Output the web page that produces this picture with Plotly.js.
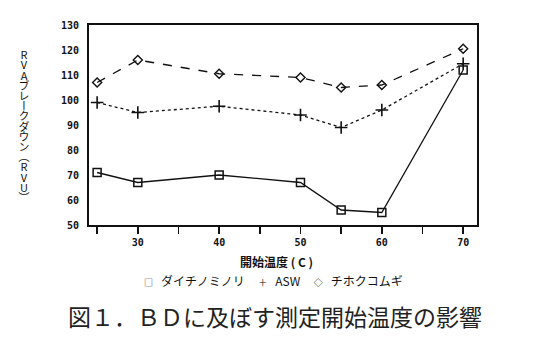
<!DOCTYPE html>
<html><head><meta charset="utf-8">
<script src="https://cdn.plot.ly/plotly-3.0.1.min.js"></script>
<style>html,body{margin:0;padding:0;background:#fff}#g{width:537px;height:337px}</style>
</head><body><div id="g"></div>
<script>
const temps = [25, 30, 40, 50, 55, 60, 70];
const daichi = [71, 67, 70, 67, 56, 55, 112];
const asw = [99, 95, 97.5, 94, 89, 96, 114.5];
const chihoku = [107, 116, 110.5, 109, 105, 106, 120.5];
const seriesNames = ["ダイチノミノリ", "ASW", "チホクコムギ"];
const legendSymbols = ["□", "＋", "◇"];
const xTickVals = [25, 30, 35, 40, 45, 50, 55, 60, 65, 70];
const xTickText = ["", "30", "", "40", "", "50", "", "60", "", "70"];
const yTickVals = [50, 60, 70, 80, 90, 100, 110, 120, 130];
const yTitle = "RVAブレークダウン︵RVU︶";
const xTitle = "開始温度 ( C )";
const caption = "図１．ＢＤに及ぼす測定開始温度の影響";

const W = 537, H = 337, L = 89, R = 60, T = 25, B = 112;
const pw = W - L - R, ph = H - T - B;
const px = x => (x - L) / pw;
const py = y => (H - B - y) / ph;

const traces = [
  {x: temps, y: daichi, name: seriesNames[0], mode: "lines+markers",
   line: {color: "#111", width: 1.3, dash: "solid"},
   marker: {symbol: "square-open", size: 8, color: "#111", line: {width: 1.5}}},
  {x: temps, y: asw, name: seriesNames[1], mode: "lines+markers",
   line: {color: "#111", width: 1.3, dash: "dot"},
   marker: {symbol: "cross-thin", size: 9, color: "#111", line: {width: 1.6, color: "#111"}}},
  {x: temps, y: chihoku, name: seriesNames[2], mode: "lines+markers",
   line: {color: "#111", width: 1.3, dash: "dash"},
   marker: {symbol: "diamond-open", size: 7, color: "#111", line: {width: 1.4}}}
];

const nb = n => "\u00a0".repeat(n);
const sym = s => '<span style="font-size:9px">' + s + '</span>';
const legendText = sym(legendSymbols[0]) + nb(3) + seriesNames[0] + nb(5) +
  sym(legendSymbols[1]) + nb(3) + seriesNames[1] + nb(5) +
  sym(legendSymbols[2]) + nb(3) + seriesNames[2];

const ann = [];
ann.push({xref: "paper", yref: "paper", x: px(24), y: py(126), text: yTitle,
  showarrow: false, xanchor: "center", yanchor: "middle", borderpad: 0,
  font: {family: "Noto Sans CJK JP", size: 11, color: "#111"}});
ann.push({xref: "paper", yref: "paper", x: px(276), y: py(261), text: xTitle,
  showarrow: false, xanchor: "center", yanchor: "middle", borderpad: 0,
  font: {family: "Noto Sans CJK JP", size: 12, color: "#111", weight: "bold"}});
ann.push({xref: "paper", yref: "paper", x: px(273), y: py(280), text: legendText,
  showarrow: false, xanchor: "center", yanchor: "middle", borderpad: 0,
  font: {family: "Noto Sans CJK JP", size: 12, color: "#111"}});
ann.push({xref: "paper", yref: "paper", x: px(275), y: py(316), text: caption,
  showarrow: false, xanchor: "center", yanchor: "middle", borderpad: 0,
  font: {family: "Noto Sans CJK JP", size: 23, color: "#222"}});

const layout = {
  width: W, height: H, margin: {l: L, r: R, t: T, b: B},
  paper_bgcolor: "#fff", plot_bgcolor: "#fff", showlegend: false,
  font: {family: "DejaVu Sans Mono", color: "#111"},
  xaxis: {range: [24, 71.7], tickmode: "array", tickvals: xTickVals, ticktext: xTickText,
    ticks: "outside", ticklen: 7, tickwidth: 1.5, tickcolor: "#111",
    showline: true, linewidth: 2, linecolor: "#111", mirror: true,
    showgrid: false, zeroline: false,
    tickfont: {family: "DejaVu Sans Mono", size: 10, color: "#111", weight: "bold"}},
  yaxis: {range: [50, 130], tickmode: "array", tickvals: yTickVals,
    ticks: "outside", ticklen: 6, tickcolor: "rgba(0,0,0,0)",
    showline: true, linewidth: 2, linecolor: "#111", mirror: true,
    showgrid: false, zeroline: false,
    tickfont: {family: "DejaVu Sans Mono", size: 10, color: "#111", weight: "bold"}},
  annotations: ann
};
Plotly.newPlot("g", traces, layout, {staticPlot: true, displayModeBar: false}).then(gd => {
  // set the y-axis title in vertical (tategaki) writing, centred at (24, 126)
  const host = gd.getBoundingClientRect();
  gd.querySelectorAll(".annotation-text").forEach(t => {
    if (t.textContent !== yTitle) return;
    t.style.writingMode = "vertical-rl";
    t.style.textOrientation = "upright";
    t.style.letterSpacing = "-0.8px";
    const b = t.getBoundingClientRect();
    const cx = b.left + b.width / 2 - host.left, cy = b.top + b.height / 2 - host.top;
    t.setAttribute("transform", "translate(" + (24 - cx) + "," + (126 - cy) + ")");
  });
});
</script></body></html>
